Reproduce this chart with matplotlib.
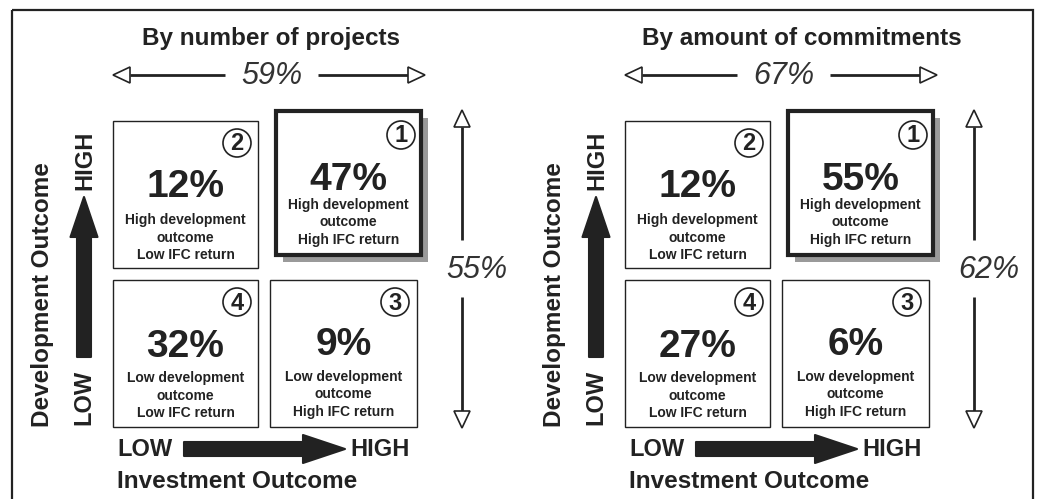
import numpy as np
import matplotlib
matplotlib.use("Agg")
import matplotlib.pyplot as plt
from matplotlib.patches import Rectangle, Circle, Polygon

plt.rcParams['font.family'] = ['Liberation Sans', 'DejaVu Sans']

# =========================
# DATA
# =========================
panel_titles = ["By number of projects", "By amount of commitments"]
high_dev_share = [59, 67]        # top row total (horizontal arrow)
high_return_share = [55, 62]     # right column total (vertical arrow)
quadrant_ids = [1, 2, 3, 4]
projects_pct = [47, 12, 9, 32]
commitments_pct = [55, 12, 6, 27]
quadrant_labels = [
    ["High development", "outcome", "High IFC return"],
    ["High development", "outcome", "Low IFC return"],
    ["Low development", "outcome", "High IFC return"],
    ["Low development", "outcome", "Low IFC return"],
]
axis_low, axis_high = "LOW", "HIGH"
x_axis_title = "Investment Outcome"
y_axis_title = "Development Outcome"

# =========================
# LAYOUT (pixel coordinates, y down)
# =========================
INK = "#222222"
panel_dx = [0, 512]
title_x = [271, 802]
# box: x0, y0, x1, y1 ; big value y ; first sub line y ; circle centre
boxes = {
    1: dict(rect=(276, 111, 421, 255), big=180, sub=205, circ=(401, 135)),
    2: dict(rect=(113, 121, 258, 268), big=187, sub=220, circ=(237, 143)),
    3: dict(rect=(270, 280, 417, 427), big=345, sub=377, circ=(395, 302)),
    4: dict(rect=(113, 280, 258, 427), big=347, sub=378, circ=(237, 302)),
}


def thin_arrow(ax, x0, y0, x1, y1, head_len=17, head_w=16):
    d = np.array([x1 - x0, y1 - y0], dtype=float)
    u = d / np.hypot(*d)
    n = np.array([-u[1], u[0]])
    base = np.array([x1, y1]) - u * head_len
    ax.plot([x0, base[0]], [y0, base[1]], color=INK, lw=2.0,
            solid_capstyle="butt", zorder=3)
    tri = [(x1, y1), tuple(base + n * head_w / 2), tuple(base - n * head_w / 2)]
    ax.add_patch(Polygon(tri, closed=True, fc="white", ec=INK, lw=1.2,
                         zorder=4))


def thick_arrow(ax, x0, y0, x1, y1, shaft_w=14, head_len=42, head_w=28):
    d = np.array([x1 - x0, y1 - y0], dtype=float)
    u = d / np.hypot(*d)
    n = np.array([-u[1], u[0]])
    p0 = np.array([x0, y0], dtype=float)
    tip = np.array([x1, y1], dtype=float)
    base = tip - u * head_len
    pts = [p0 + n * shaft_w / 2, base + n * shaft_w / 2, base + n * head_w / 2,
           tip, base - n * head_w / 2, base - n * shaft_w / 2,
           p0 - n * shaft_w / 2]
    ax.add_patch(Polygon([tuple(p) for p in pts], closed=True, fc=INK,
                         ec=INK, lw=1.5, joinstyle="round", zorder=3))


def main():
    fig = plt.figure(figsize=(10.39, 4.99), dpi=100)
    ax = fig.add_axes([0, 0, 1, 1])
    ax.set_xlim(0, 1039)
    ax.set_ylim(499, 0)
    ax.axis("off")

    # outer frame
    ax.add_patch(Rectangle((12, 10), 1021, 520, fill=False, ec=INK, lw=1.6))

    for p, values in enumerate([projects_pct, commitments_pct]):
        dx = panel_dx[p]

        ax.text(title_x[p], 38, panel_titles[p], ha="center", va="center",
                fontsize=17.5, fontweight="bold", color=INK)

        # top share arrow
        ax.text(272 + dx, 76, f"{high_dev_share[p]}%", ha="center",
                va="center", fontsize=22, style="italic", color="#333333")
        thin_arrow(ax, 225 + dx, 75, 113 + dx, 75)
        thin_arrow(ax, 318 + dx, 75, 425 + dx, 75)

        # right share arrow
        ax.text(477 + dx, 270, f"{high_return_share[p]}%", ha="center",
                va="center", fontsize=22, style="italic", color="#333333")
        thin_arrow(ax, 462 + dx, 240, 462 + dx, 110)
        thin_arrow(ax, 462 + dx, 297, 462 + dx, 428)

        for q, val, lines in zip(quadrant_ids, values, quadrant_labels):
            b = boxes[q]
            x0, y0, x1, y1 = b["rect"]
            x0 += dx
            x1 += dx
            if q == 1:
                ax.add_patch(Rectangle((x0 + 7, y0 + 7), x1 - x0, y1 - y0,
                                       fc="#9a9a9a", ec="none", zorder=1))
                ax.add_patch(Rectangle((x0, y0), x1 - x0, y1 - y0, fc="white",
                                       ec=INK, lw=3.0, zorder=2))
            else:
                ax.add_patch(Rectangle((x0, y0), x1 - x0, y1 - y0, fc="white",
                                       ec=INK, lw=1.0, zorder=2))
            cx = (x0 + x1) / 2
            ax.text(cx, b["big"], f"{val}%", ha="center", va="center",
                    fontsize=28, fontweight="bold", color=INK, zorder=5)
            for k, line in enumerate(lines):
                ax.text(cx, b["sub"] + 17.5 * k, line, ha="center",
                        va="center", fontsize=10, fontweight="bold",
                        color=INK, zorder=5)
            ccx, ccy = b["circ"]
            ax.add_patch(Circle((ccx + dx, ccy), 14, fc="white", ec=INK,
                                lw=1.2, zorder=5))
            ax.text(ccx + dx, ccy + 1, str(q), ha="center", va="center",
                    fontsize=17, fontweight="bold", color=INK, zorder=6)

        # vertical axis (development outcome)
        thick_arrow(ax, 84 + dx, 357, 84 + dx, 197, shaft_w=14, head_len=40,
                    head_w=27)
        ax.text(85 + dx, 160, axis_high, rotation=90, ha="center",
                va="center", fontsize=17, fontweight="bold", color=INK)
        ax.text(84 + dx, 397, axis_low, rotation=90, ha="center",
                va="center", fontsize=17, fontweight="bold", color=INK)
        ax.text(43 + dx, 295, y_axis_title, rotation=90, ha="center",
                va="center", fontsize=17.5, fontweight="bold", color=INK)

        # horizontal axis (investment outcome)
        thick_arrow(ax, 184 + dx, 449, 345 + dx, 449, shaft_w=14,
                    head_len=42, head_w=28)
        ax.text(117 + dx, 450, axis_low, ha="left", va="center",
                fontsize=17, fontweight="bold", color=INK)
        ax.text(350 + dx, 450, axis_high, ha="left", va="center",
                fontsize=17, fontweight="bold", color=INK)
        ax.text(117 + dx, 481, x_axis_title, ha="left", va="center",
                fontsize=17.5, fontweight="bold", color=INK)

    fig.savefig("out.png", dpi=100)


if __name__ == "__main__":
    main()
